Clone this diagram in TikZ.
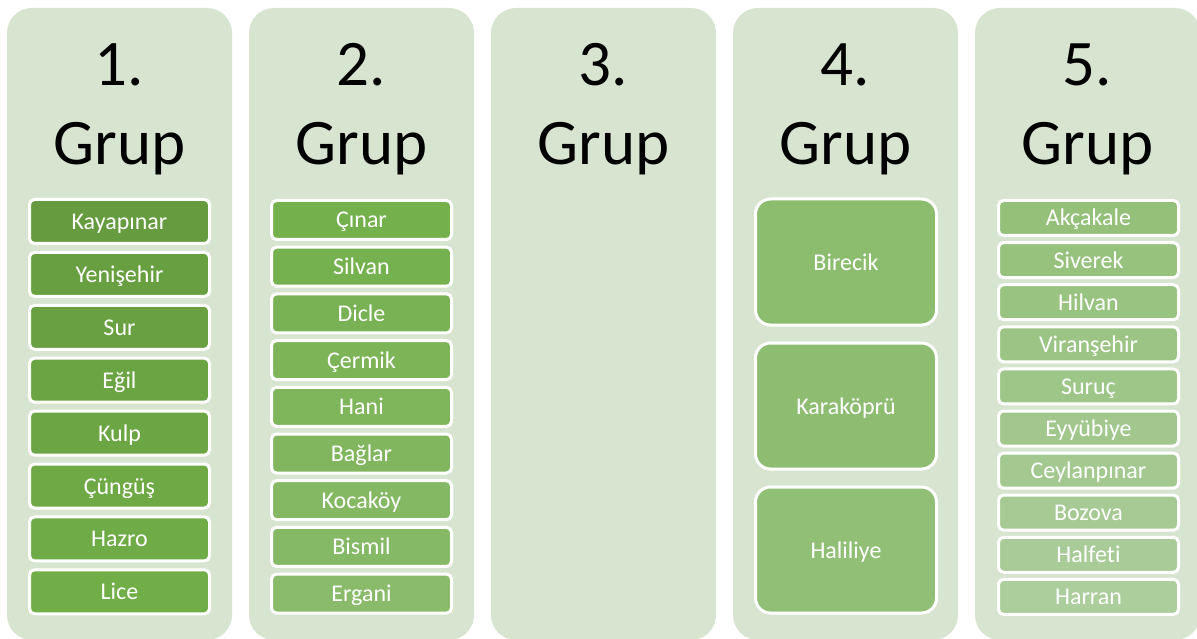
\documentclass[tikz,border=0pt]{standalone}
\usepackage{fontspec}
\setmainfont{Carlito}[Ligatures=CommonOff]
\definecolor{panelc}{RGB}{215,228,208}
\definecolor{darkg}{RGB}{102,156,63}
\definecolor{accg}{RGB}{113,174,72}
\definecolor{lightg}{RGB}{172,205,156}
\tikzset{
  panel/.style={fill=panelc, rounded corners=25pt, draw=none},
  title/.style={anchor=base, inner sep=0pt, font=\fontsize{65}{74}\selectfont},
  itembox/.style={draw=white, line width=3pt, rounded corners=5pt, inner sep=0pt,
    text=white, align=center, font=\fontsize{24}{28}\selectfont,
    text height=19pt, text depth=3pt},
}
\newcommand{\itemcol}[1]{%
  \ifnum#1<8\relax
    \pgfmathtruncatemacro{\pp}{round(100-#1*100/7)}%
    \colorlet{curc}{darkg!\pp!accg}%
  \else
    \pgfmathtruncatemacro{\pp}{round(100-(#1-7)*100/22)}%
    \colorlet{curc}{accg!\pp!lightg}%
  \fi}
\begin{document}
\begin{tikzpicture}[x=1pt,y=-1pt]
\useasboundingbox (0,0) rectangle (1197,639);
\fill[white] (0,0) rectangle (1197,639);
% panels
\foreach \i in {0,...,4}{
  \path[panel] ({7+242*\i},8) rectangle ({232+242*\i},640);
}
\foreach \i/\n in {0/1,1/2,2/3,3/4,4/5}{
  \node[title] (num\n) at ({119.5+242*\i},86) {\n.};
  \node[title] (grup\n) at ({119.5+242*\i},165) {Grup};
}
% column 1
\foreach [count=\k from 0] \t in {Kayapınar,Yenişehir,Sur,Eğil,Kulp,Çüngüş,Hazro,Lice}{
  \itemcol{\k}
  \node[itembox, fill=curc, minimum width=180pt, minimum height=44pt] (a\k) at (119.5,{221.5+52.9*\k}) {\t};
}
% column 2
\foreach [count=\k from 0] \t in {Çınar,Silvan,Dicle,Çermik,Hani,Bağlar,Kocaköy,Bismil,Ergani}{
  \pgfmathtruncatemacro{\kk}{\k+8}
  \itemcol{\kk}
  \node[itembox, fill=curc, minimum width=180pt, minimum height=39pt] (b\k) at (361.5,{220+46.7*\k}) {\t};
}
% column 4
\foreach [count=\k from 0] \t in {Birecik,Karaköprü,Haliliye}{
  \pgfmathtruncatemacro{\kk}{\k+17}
  \itemcol{\kk}
  \node[itembox, fill=curc, minimum width=181pt, minimum height=126pt,
        rounded corners=15pt] (d\k) at (846,{262+144*\k}) {\t};
}
% column 5
\foreach [count=\k from 0] \t in {Akçakale,Siverek,Hilvan,Viranşehir,Suruç,Eyyübiye,Ceylanpınar,Bozova,Halfeti,Harran}{
  \pgfmathtruncatemacro{\kk}{\k+20}
  \itemcol{\kk}
  \node[itembox, fill=curc, minimum width=180pt, minimum height=35pt] (e\k) at (1088.5,{218+42.1*\k}) {\t};
}
\end{tikzpicture}
\end{document}
